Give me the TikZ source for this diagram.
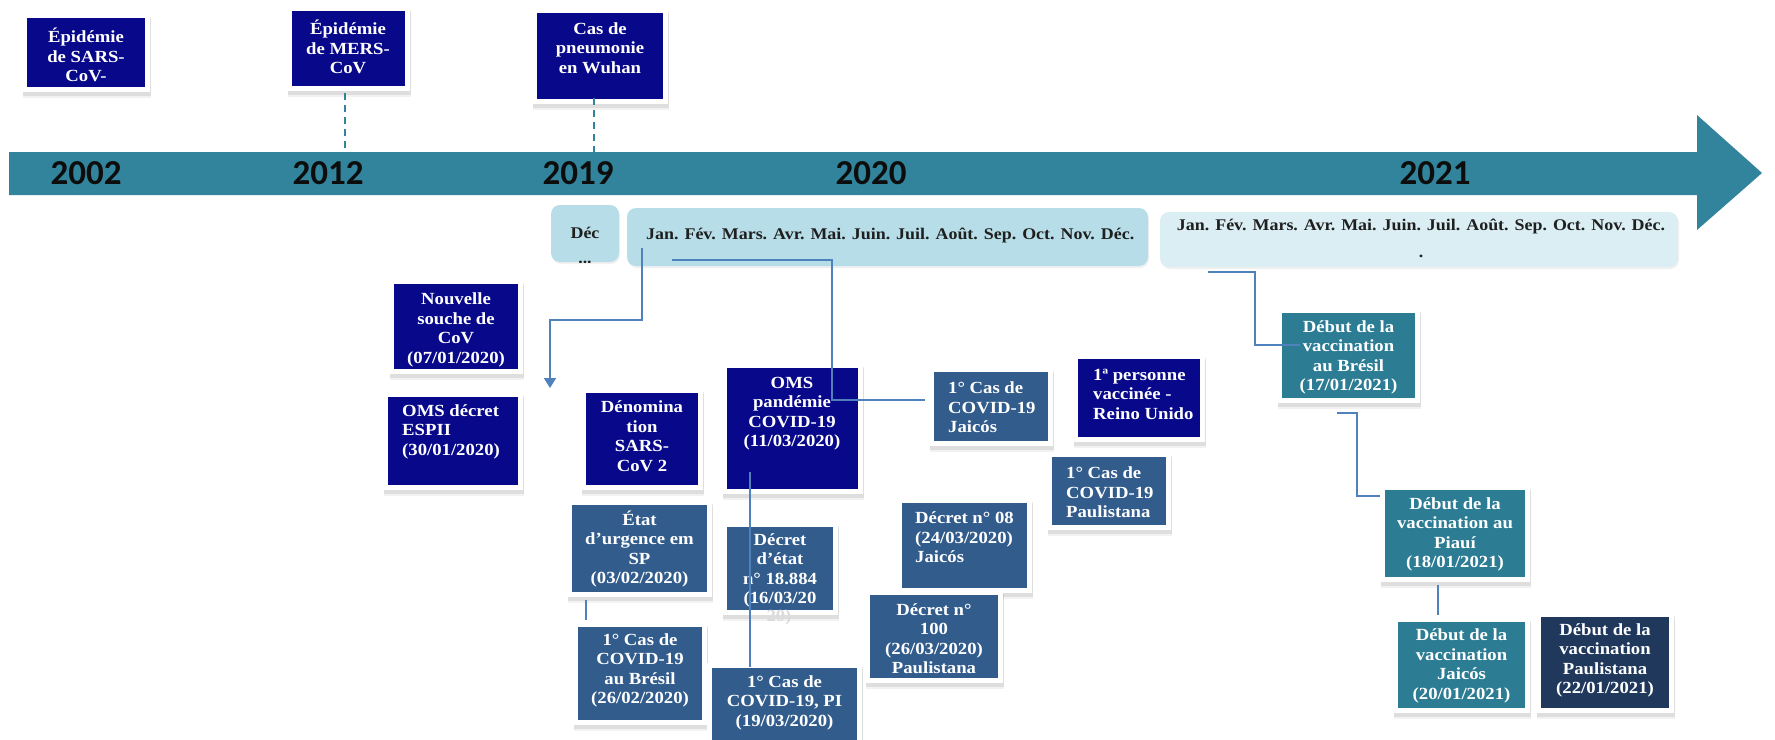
\documentclass[tikz,border=0pt]{standalone}
\usepackage{fontspec}
\setmainfont{Liberation Serif}
\newfontfamily\boxfont{Liberation Serif}[FakeStretch=1.1]
\newfontfamily\yearfont{Carlito}
\usetikzlibrary{arrows.meta,shadows,fit,calc}
\definecolor{navybox}{RGB}{8,8,138}
\definecolor{steelbox}{RGB}{50,92,140}
\definecolor{tealbox}{RGB}{44,124,148}
\definecolor{darkbox}{RGB}{31,56,92}
\definecolor{axisteal}{RGB}{49,132,155}
\definecolor{lightA}{RGB}{183,222,232}
\definecolor{lightB}{RGB}{218,238,243}
\definecolor{connblue}{RGB}{79,129,189}
\tikzset{
  evbox/.style={inner sep=5pt, fill=white, draw=none,
    drop shadow={shadow xshift=1pt, shadow yshift=-6pt, fill=black!50, opacity=.10},
    drop shadow={shadow xshift=1pt, shadow yshift=-3.5pt, fill=black!50, opacity=.18},
    path picture={\fill[#1] ([shift={(5pt,-5pt)}]path picture bounding box.north west)
       rectangle ([shift={(-5pt,5pt)}]path picture bounding box.south east);}},
  monthbox/.style={inner sep=0pt, rounded corners=9pt, draw=none,
    drop shadow={shadow xshift=1pt, shadow yshift=-2pt, fill=black!40, opacity=.15}},
  evtxt/.style={text=white, inner sep=0pt, align=center,
    font=\boxfont\bfseries\fontsize{17}{19.5}\selectfont},
  evtxtl/.style={evtxt, align=left},
  mtxt/.style={text=black!88, inner sep=0pt, align=center,
    font=\boxfont\bfseries\fontsize{16.3}{25}\selectfont},
  yr/.style={text=black!95, inner sep=0pt, font=\yearfont\bfseries\fontsize{35}{40}\selectfont},
  dashline/.style={draw=axisteal, line width=2.5pt, dash pattern=on 7pt off 5pt},
  conn/.style={draw=connblue, line width=2pt},
  connarrow/.style={conn, -{Triangle[width=12pt,length=10pt]}}
}
\begin{document}
\begin{tikzpicture}[x=1pt,y=-1pt]
\useasboundingbox (0,0) rectangle (1775,739);
% timeline arrow
\fill[axisteal] (9,152) -- (1697,152) -- (1697,115) -- (1762,173) -- (1697,230) -- (1697,195) -- (9,195) -- cycle;
\coordinate (axtop) at (0,152);
\node[yr] (y2002) at (86,173) {2002};
\node[yr] (y2012) at (328,173) {2012};
\node[yr] (y2019) at (578,173) {2019};
\node[yr] (y2020) at (871,173) {2020};
\node[yr] (y2021) at (1435,173) {2021};

% month bars
\node[monthbox, fill=lightA, fit={(551,205) (619,262)}] (dec) {};
\node[monthbox, fill=lightA, fit={(627,208) (1148,266)}] (m20) {};
\node[monthbox, fill=lightB, fit={(1160,212) (1678,267)}] (m21) {};
\begin{scope}
\clip[rounded corners=9pt] (551,205) rectangle (619,262);
\node[mtxt] (dect) at (585,245) {Déc\\...};
\end{scope}
\node[mtxt, anchor=west] (m20t) at (646,235) {Jan. Fév. Mars. Avr. Mai. Juin. Juil. Août. Sep. Oct. Nov. Déc.};
\node[mtxt, font=\boxfont\bfseries\fontsize{16.3}{27}\selectfont] (m21t) at (1421,238) {Jan. Fév. Mars. Avr. Mai. Juin. Juil. Août. Sep. Oct. Nov. Déc.\\.};

% top events
\node[evbox=navybox, fit={(27,18) (145,87)}] (sars) {};
\node[evbox=navybox, fit={(292,11) (405,86)}] (mers) {};
\node[evbox=navybox, fit={(537,13) (663,99)}] (wuhan) {};
\node[evtxt] (sarst) at (86,55) {Épidémie\\de SARS-\\CoV-};
\node[evtxt] (merst) at (348,47) {Épidémie\\de MERS-\\CoV};
\node[evtxt] (wuhant) at (600,48) {Cas de\\pneumonie\\en Wuhan};
\draw[dashline] ([xshift=-3.5pt,yshift=-2pt]mers.south) -- ([xshift=-3.5pt]mers.south |- axtop);
\draw[dashline] ([xshift=-6pt,yshift=6pt]wuhan.south) -- ([xshift=-6pt]wuhan.south |- axtop);

% 2020 events
\node[evbox=navybox, fit={(394,284) (518,369)}] (nouv) {};
\node[evbox=navybox, fit={(388,397) (518,485)}] (espii) {};
\node[evbox=navybox, fit={(586,393) (698,485)}] (denom) {};
\node[evbox=navybox, fit={(727,368) (858,489)}] (omsp) {};
\node[evbox=steelbox, fit={(572,505) (707,592)}] (etat) {};
\node[evbox=steelbox, fit={(727,527) (833,610)}] (decret) {};
\node[evbox=steelbox, fit={(578,627) (702,720)}] (bresil) {};
\node[evbox=steelbox, fit={(712,668) (857,748)}] (pi) {};
\node[evbox=steelbox, fit={(902,503) (1027,588)}] (dhuit) {};
\node[evbox=steelbox, fit={(870,595) (998,678)}] (dcent) {};
\node[evbox=steelbox, fit={(934,372) (1048,441)}] (jaicos) {};
\node[evbox=navybox, fit={(1078,359) (1200,437)}] (reino) {};
\node[evbox=steelbox, fit={(1052,457) (1166,525)}] (paul) {};

\node[evtxt] (nouvt) at (456,330) {Nouvelle\\souche de\\CoV\\(07/01/2020)};
\node[evtxtl, anchor=west] (espiit) at (402,431.5) {OMS décret\\ESPII\\(30/01/2020)};
\node[evtxt] (denomt) at (642,436) {Dénomina\\tion\\SARS-\\CoV 2};
\node[evtxt] (omspt) at (792,413.5) {OMS\\pandémie\\COVID-19\\(11/03/2020)};
\node[evtxt] (etatt) at (639.5,549) {État\\d’urgence em\\SP\\(03/02/2020)};
\node[evtxt] (decrett) at (780,570.5) {Décret\\d’état\\n° 18.884\\(16/03/20};
\node[evtxt, text=black!14] (decretr) at (779,617) {20)};
\node[evtxt] (bresilt) at (640,670.5) {1° Cas de\\COVID-19\\au Brésil\\(26/02/2020)};
\node[evtxt] (pit) at (784.5,702.5) {1° Cas de\\COVID-19, PI\\(19/03/2020)};
\node[evtxtl, anchor=west] (dhuitt) at (915,537.5) {Décret n° 08\\(24/03/2020)\\Jaicós};
\node[evtxt] (dcentt) at (934,638.5) {Décret n°\\100\\(26/03/2020)\\Paulistana};
\node[evtxtl, anchor=west] (jaicost) at (948,407.5) {1° Cas de\\COVID-19\\Jaicós};
\node[evtxtl, anchor=west] (reinot) at (1093,394) {1ª personne\\vaccinée -\\Reino Unido};
\node[evtxtl, anchor=west] (poult) at (1066,492.5) {1° Cas de\\COVID-19\\Paulistana};

% 2021 events
\node[evbox=tealbox, fit={(1282,313) (1415,398)}] (vbr) {};
\node[evbox=tealbox, fit={(1385,490) (1525,577)}] (vpi) {};
\node[evbox=tealbox, fit={(1398,622) (1525,708)}] (vja) {};
\node[evbox=darkbox, fit={(1541,617) (1669,708)}] (vpa) {};
\node[evtxt] (vbrt) at (1348.5,357.5) {Début de la\\vaccination\\au Brésil\\(17/01/2021)};
\node[evtxt] (vpit) at (1455,534.5) {Début de la\\vaccination au\\Piauí\\(18/01/2021)};
\node[evtxt] (vjat) at (1461.5,666) {Début de la\\vaccination\\Jaicós\\(20/01/2021)};
\node[evtxt] (vpat) at (1605,660.5) {Début de la\\vaccination\\Paulistana\\(22/01/2021)};

% connectors
\coordinate (a0) at (642,248);
\coordinate (a1) at (550,388);
\draw[connarrow] (a0) -- ++(0,72) -| (a1);
\coordinate (b0) at (672,260);
\coordinate (b1) at (832,400);
\draw[conn] (b0) -| (b1) -- ([xshift=-4pt]b1 -| jaicos.west);
\coordinate (c0) at (750,472);
\draw[conn] (c0) -- ([yshift=-4pt]c0 |- pi.north);
\coordinate (d0) at (586,600);
\draw[conn] (d0) -- ([yshift=2pt]d0 |- bresil.north);
\coordinate (e0) at (1208,272);
\coordinate (e1) at (1300,345);
\draw[conn] (e0) -- (1255,272) |- (e1);
\coordinate (f0) at (1337,413);
\coordinate (f1) at (1357,496);
\draw[conn] (f0) -| (f1) -- (f1 -| vpi.west);
\coordinate (g0) at (1438,585);
\draw[conn] (g0) -- ([yshift=2pt]g0 |- vja.north);
\end{tikzpicture}
\end{document}
